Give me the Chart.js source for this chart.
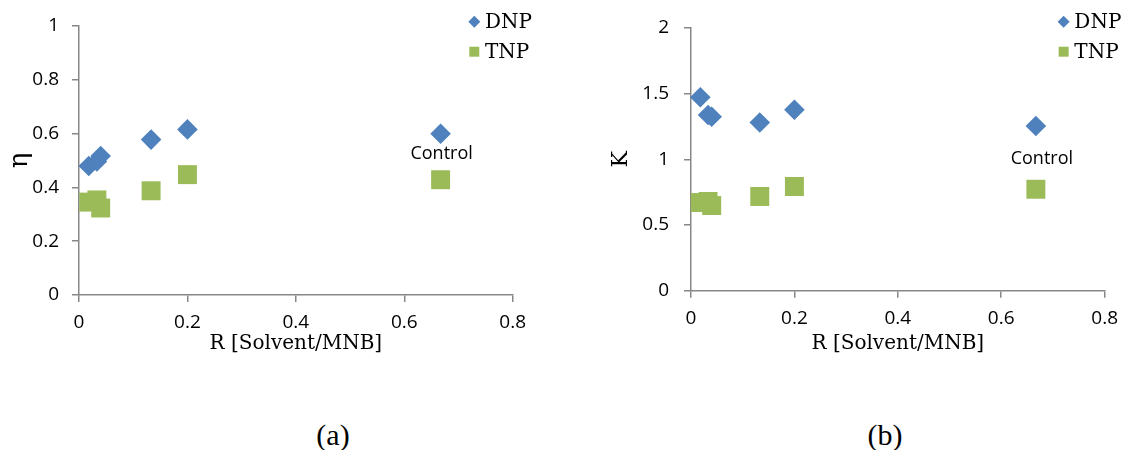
<!DOCTYPE html>
<html>
<head>
<meta charset="utf-8">
<script src="https://cdn.jsdelivr.net/npm/chart.js@4.4.1/dist/chart.umd.min.js"></script>
<style>
  html, body { margin: 0; padding: 0; background: #fff; }
  #wrap { position: relative; width: 1127px; height: 450px; overflow: hidden; }
  .panel { position: absolute; top: 0; height: 370px; }
  #pa { left: 0; width: 563px; }
  #pb { left: 563px; width: 564px; }
  .cap { position: absolute; top: 417px; font-family: "Liberation Serif", serif; font-size: 30px;
         line-height: 36px; color: #000; transform: translateX(-50%); }
</style>
</head>
<body>
<div id="wrap">
  <div class="panel" id="pa"><canvas id="ca"></canvas></div>
  <div class="panel" id="pb"><canvas id="cb"></canvas></div>
  <div class="cap" style="left:333px">(a)</div>
  <div class="cap" style="left:885px">(b)</div>
</div>
<script>
// Solvent-to-MNB ratio for each run (last one is the control run)
const ratio = [0.018, 0.033, 0.04, 0.133, 0.2, 0.667];
const pointNames = ['', '', '', '', '', 'Control'];

// (a) efficiency eta
const etaDNP = [0.479, 0.496, 0.516, 0.577, 0.615, 0.599];
const etaTNP = [0.345, 0.353, 0.323, 0.387, 0.447, 0.428];

// (b) ratio K
const kDNP = [1.472, 1.337, 1.324, 1.280, 1.377, 1.253];
const kTNP = [0.671, 0.679, 0.648, 0.717, 0.793, 0.772];

// axis ticks
const ratioTicks = [0, 0.2, 0.4, 0.6, 0.8];
const etaTicks = [0, 0.2, 0.4, 0.6, 0.8, 1];
const kTicks = [0, 0.5, 1, 1.5, 2];

const seriesNames = ['DNP', 'TNP'];
const BLUE = '#4F81BD';
const GREEN = '#9BBB59';
const AXIS = '#878787';
const SANS = '"Open Sans", sans-serif';
const SERIF = '"DejaVu Serif", serif';

const toPoints = (ys) => ratio.map((x, i) => ({ x: x, y: ys[i] }));

// draws the series key and the name tag of the control run
const notes = {
  id: 'notes',
  afterDatasetsDraw(chart, args, o) {
    const ctx = chart.ctx;
    const area = chart.chartArea;
    ctx.save();
    chart.data.datasets.forEach((ds, i) => {
      const cx = area.right - o.keyDx;
      const cy = o.keyTop + i * o.keyGap;
      ctx.fillStyle = ds.backgroundColor;
      ctx.beginPath();
      if (ds.pointStyle === 'rectRot') {
        const r = 6;
        ctx.moveTo(cx - r, cy); ctx.lineTo(cx, cy - r);
        ctx.lineTo(cx + r, cy); ctx.lineTo(cx, cy + r);
        ctx.closePath();
      } else {
        ctx.rect(cx - 5, cy - 5, 10, 10);
      }
      ctx.fill();
      ctx.fillStyle = '#000';
      ctx.font = '20px ' + SERIF;
      ctx.textAlign = 'left';
      ctx.textBaseline = 'middle';
      ctx.fillText(ds.label, cx + o.keyText, cy + 1);
    });
    const xs = chart.scales.x, ys = chart.scales.y;
    pointNames.forEach((name, i) => {
      if (!name) return;
      const px = xs.getPixelForValue(ratio[i]);
      const y1 = ys.getPixelForValue(chart.data.datasets[0].data[i].y);
      const y2 = ys.getPixelForValue(chart.data.datasets[1].data[i].y);
      ctx.font = '18px ' + SANS;
      ctx.textAlign = 'center';
      ctx.textBaseline = 'middle';
      ctx.fillText(name, px + o.tagDx, (y1 + y2) / 2 + o.tagDy);
    });
    ctx.restore();
  }
};

function makeChart(id, cfg) {
  const axisCommon = {
    type: 'linear',
    border: { display: true, color: AXIS, width: 1.5 },
    grid: { display: true, drawOnChartArea: false, drawTicks: true, tickLength: 7, color: AXIS, lineWidth: 1.5 },
  };
  return new Chart(document.getElementById(id), {
    type: 'scatter',
    data: {
      datasets: [
        { label: seriesNames[0], data: toPoints(cfg.dnp), pointStyle: 'rectRot', pointRadius: 10.3,
          backgroundColor: BLUE, borderColor: BLUE, borderWidth: 0, clip: false },
        { label: seriesNames[1], data: toPoints(cfg.tnp), pointStyle: 'rect', pointRadius: 13.4,
          backgroundColor: GREEN, borderColor: GREEN, borderWidth: 0, clip: false }
      ]
    },
    options: {
      responsive: true,
      maintainAspectRatio: false,
      animation: false,
      events: [],
      layout: { padding: { left: 0, top: cfg.top, right: cfg.right, bottom: 0 } },
      plugins: {
        legend: { display: false },
        tooltip: { enabled: false },
        notes: cfg.notes
      },
      scales: {
        x: Object.assign({}, axisCommon, {
          min: 0, max: 0.8,
          afterBuildTicks: (s) => { s.ticks = ratioTicks.map(v => ({ value: v })); },
          afterFit: (s) => { s.height = cfg.xHeight; },
          ticks: { color: '#000', font: { family: SANS, size: 19 }, padding: 9, maxRotation: 0,
                   callback: (v) => String(v) },
          title: { display: true, text: 'R [Solvent/MNB]', color: '#000',
                   font: { family: SERIF, size: 20 }, padding: { top: 0, bottom: 14 } }
        }),
        y: Object.assign({}, axisCommon, {
          min: cfg.ymin, max: cfg.ymax,
          afterBuildTicks: (s) => { s.ticks = cfg.yTicks.map(v => ({ value: v })); },
          afterFit: (s) => { s.width = cfg.yWidth; },
          ticks: { color: '#000', font: { family: SANS, size: 19 }, padding: cfg.yPad,
                   callback: (v) => String(v) },
          title: { display: true, text: cfg.yTitle, color: '#000',
                   font: { family: SERIF, size: cfg.yTitleSize }, padding: { top: cfg.yTitlePad, bottom: 0 } }
        })
      }
    },
    plugins: [notes]
  });
}

makeChart('ca', {
  dnp: etaDNP, tnp: etaTNP, ymin: 0, ymax: 1, yTicks: etaTicks, yTitle: 'η', yTitleSize: 26,
  top: 25.7, right: 50.3, xHeight: 75, yWidth: 79, yPad: 13, yTitlePad: 4.5,
  notes: { keyDx: 38.4, keyTop: 21.7, keyGap: 30, keyText: 10.7, tagDx: 1, tagDy: -3 }
});

makeChart('cb', {
  dnp: kDNP, tnp: kTNP, ymin: 0, ymax: 2, yTicks: kTicks, yTitle: 'K', yTitleSize: 22,
  top: 27.9, right: 20, xHeight: 79.3, yWidth: 128, yPad: 15, yTitlePad: 44.8,
  notes: { keyDx: 41, keyTop: 21.7, keyGap: 30, keyText: 10.7, tagDx: 6, tagDy: 1 }
});
</script>
</body>
</html>
